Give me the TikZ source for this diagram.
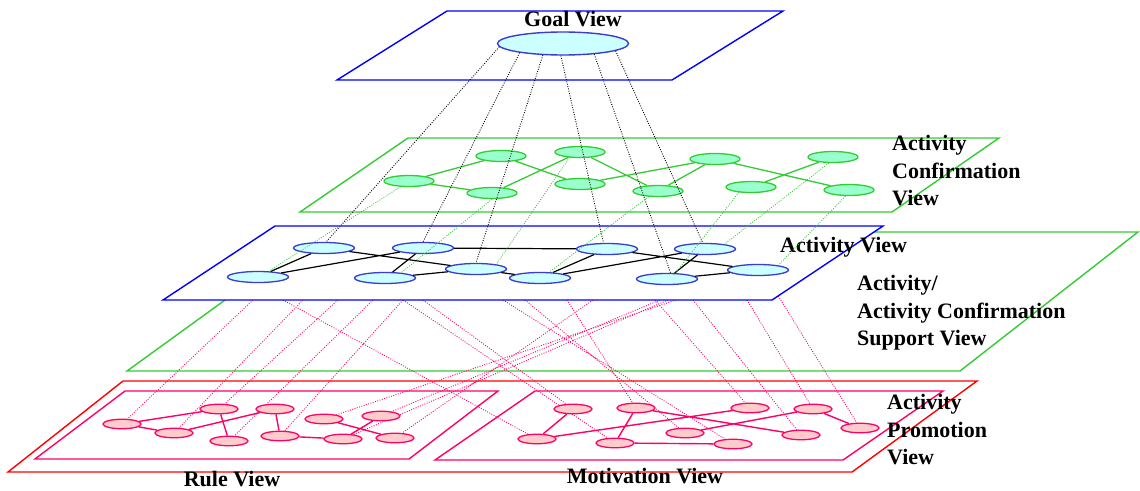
\documentclass[tikz,border=0pt]{standalone}
\usepackage{fontspec}
\setmainfont{Liberation Serif}
\usetikzlibrary{shapes.geometric}
\definecolor{planeblue}{RGB}{0,0,255}
\definecolor{planegreen}{RGB}{51,204,51}
\definecolor{planered}{RGB}{255,0,0}
\definecolor{pinkline}{RGB}{255,0,102}
\definecolor{nodeblue}{RGB}{60,60,210}
\definecolor{cyanfill}{RGB}{204,255,255}
\definecolor{greenfill}{RGB}{153,255,204}
\definecolor{pinkfill}{RGB}{255,204,204}
\pgfdeclarelayer{planesA}
\pgfdeclarelayer{pinkl}
\pgfdeclarelayer{planesB}
\pgfdeclarelayer{toplines}
\pgfsetlayers{planesA,pinkl,planesB,main,toplines}
\begin{document}
\begin{tikzpicture}[x=1pt,y=-1pt,
  plane/.style={line width=1.4pt,fill=white,line join=miter},
  anode/.style={ellipse,draw=nodeblue,fill=cyanfill,line width=1.3pt,minimum width=61pt,minimum height=11pt,inner sep=0pt},
  gnode/.style={ellipse,draw=planegreen,fill=greenfill,line width=1.3pt,minimum width=50pt,minimum height=11pt,inner sep=0pt},
  rnode/.style={ellipse,draw=pinkline,fill=pinkfill,line width=1.3pt,minimum width=38pt,minimum height=9.5pt,inner sep=0pt},
  aedge/.style={draw=black,line width=1.2pt},
  gedge/.style={draw=planegreen,line width=1.3pt},
  redge/.style={draw=pinkline,line width=1.4pt},
  dotb/.style={draw=black,line width=0.9pt,dash pattern=on 0.9pt off 1.5pt},
  dotg/.style={draw=planegreen,line width=0.9pt,dash pattern=on 0.9pt off 1.5pt},
  dotp/.style={draw=pinkline,line width=0.9pt,dash pattern=on 0.9pt off 1.5pt},
  lab/.style={font=\fontsize{22}{27.5}\selectfont\bfseries,inner sep=0pt,align=left}
]
\useasboundingbox (0,0) rectangle (1140,490);

% ---------- nodes ----------
\node[ellipse,draw=nodeblue,fill=cyanfill,line width=1.4pt,minimum width=131pt,minimum height=23pt,inner sep=0pt] (goal) at (563,43.5) {};

\node[anode] (A1) at (324,248) {};
\node[anode] (A2) at (258,277) {};
\node[anode] (A3) at (423,248) {};
\node[anode] (A4) at (385,278) {};
\node[anode] (A5) at (476,269) {};
\node[anode] (A6) at (540,278) {};
\node[anode] (A7) at (607,249) {};
\node[anode] (A8) at (705,249) {};
\node[anode] (A9) at (667,279) {};
\node[anode] (A10) at (758,270) {};

\node[gnode] (G1) at (409,181) {};
\node[gnode] (G2) at (501,156) {};
\node[gnode] (G3) at (580,152) {};
\node[gnode] (G4) at (492,193) {};
\node[gnode] (G5) at (580,184) {};
\node[gnode] (G6) at (658,191) {};
\node[gnode] (G7) at (715,159) {};
\node[gnode] (G8) at (833,157) {};
\node[gnode] (G9) at (751,187) {};
\node[gnode] (G10) at (849,190) {};

\node[rnode] (R1) at (122,424) {};
\node[rnode] (R2) at (219,409) {};
\node[rnode] (R3) at (174,433) {};
\node[rnode] (R4) at (229,441) {};
\node[rnode] (R5) at (275,409) {};
\node[rnode] (R6) at (280,436) {};
\node[rnode] (R7) at (324,419) {};
\node[rnode] (R8) at (381,416) {};
\node[rnode] (R9) at (343,439) {};
\node[rnode] (R10) at (395,438) {};

\node[rnode] (M1) at (573,409) {};
\node[rnode] (M2) at (537,439) {};
\node[rnode] (M3) at (636,408) {};
\node[rnode] (M4) at (615,443) {};
\node[rnode] (M5) at (685,433) {};
\node[rnode] (M6) at (750,408) {};
\node[rnode] (M7) at (733,444) {};
\node[rnode] (M8) at (813,409) {};
\node[rnode] (M9) at (801,435) {};
\node[rnode] (M10) at (860,428) {};

% ---------- solid edges ----------
\draw[aedge] (A1)--(A2) (A2)--(A3) (A1)--(A5) (A3)--(A4) (A4)--(A5) (A3)--(A7)
  (A5)--(A6) (A6)--(A7) (A6)--(A8) (A7)--(A10) (A9)--(A8) (A9)--(A10);
\draw[gedge] (G1)--(G2) (G1)--(G4) (G2)--(G5) (G4)--(G3) (G3)--(G6) (G5)--(G7)
  (G6)--(G7) (G7)--(G10) (G9)--(G8);
\draw[redge] (R1)--(R2) (R1)--(R3) (R3)--(R5) (R2)--(R4) (R5)--(R6) (R6)--(R9)
  (R7)--(R10) (R9)--(R8);
\draw[redge] (M1)--(M2) (M2)--(M6) (M3)--(M4) (M4)--(M7) (M3)--(M9) (M5)--(M8) (M8)--(M10);

% ---------- labels ----------
\node[lab] (tgoal) at (573,19) {Goal View};
\node[lab,anchor=west] (tconf) at (892,171) {Activity\\Confirmation\\View};
\node[lab,anchor=west] (tact) at (780,247) {Activity View};
\node[lab,anchor=west] (tsup) at (857,313) {Activity/\\Activity Confirmation\\Support View};
\node[lab,anchor=west] (tprom) at (887,430) {Activity\\Promotion\\View};
\node[lab] (trule) at (232,479) {Rule View};
\node[lab] (tmot) at (645,476) {Motivation View};

% ---------- lower planes ----------
\begin{pgfonlayer}{planesA}
\draw[plane,draw=planegreen] (319,232)--(1138,232)--(960,371)--(127,371)--cycle;
\draw[plane,draw=planered] (123,381)--(977,381)--(852,472)--(8,472)--cycle;
\draw[plane,draw=pinkline] (125,391)--(498,391)--(409,459)--(35,459)--cycle;
\draw[plane,draw=pinkline] (535,391)--(943,391)--(843,460)--(435,460)--cycle;
\end{pgfonlayer}

% ---------- pink dotted links ----------
\begin{pgfonlayer}{pinkl}
\coordinate (p1) at (253,300);
\coordinate (p2) at (303,300);
\coordinate (p3) at (338,300);
\coordinate (p4) at (373,300);
\coordinate (p5) at (403,300);
\coordinate (p6) at (283,300);
\coordinate (p7) at (423,300);
\coordinate (p8) at (525,300);
\coordinate (p9) at (503,300);
\coordinate (p10) at (655,300);
\coordinate (p11) at (693,300);
\coordinate (p12) at (747,300);
\coordinate (p13) at (777,294);
\coordinate (p14) at (567,300);
\coordinate (p15) at (593,300);
\coordinate (p16) at (676,300);
\coordinate (p17) at (660,300);
\coordinate (p18) at (668,300);
\draw[dotp] (p1)--(R1) (p2)--(R3) (p3)--(R2) (p4)--(R4) (p5)--(R6) (p5)--(M4)
  (p6)--(M2) (p7)--(M1) (p8)--(M5) (p9)--(M7) (p10)--(M6) (p11)--(M9)
  (p12)--(M8) (p13)--(M10) (p14)--(M3) (p15)--(R10) (p16)--(R7) (p17)--(R8) (p18)--(R9);
\end{pgfonlayer}

% ---------- upper planes ----------
\begin{pgfonlayer}{planesB}
\draw[plane,draw=planeblue] (275,226)--(883,226)--(772,300)--(163,300)--cycle;
\draw[plane,draw=planegreen] (408,138)--(999,138)--(892,212)--(300,212)--cycle;
\draw[plane,draw=planeblue] (447,11)--(783,11)--(672,80)--(337,80)--cycle;
\end{pgfonlayer}

% ---------- dotted links on top ----------
\begin{pgfonlayer}{toplines}
\draw[dotb] (goal.183)--(A1.70) (goal.192)--(A3.north) (goal.210)--(A5.north)
  (goal.260)--(A7.120) (goal.341)--(A9.60) (goal.352)--(A8.110);
\draw[dotg] (G1.214)--(A2.28) (G4.south)--(A4.18) (G3.208)--(A5.13)
  (G6.211)--(A6.32) (G9.204)--(A9.35) (G8.235)--(A8.14) (G10.240)--(A10.13);
\end{pgfonlayer}
\end{tikzpicture}
\end{document}
